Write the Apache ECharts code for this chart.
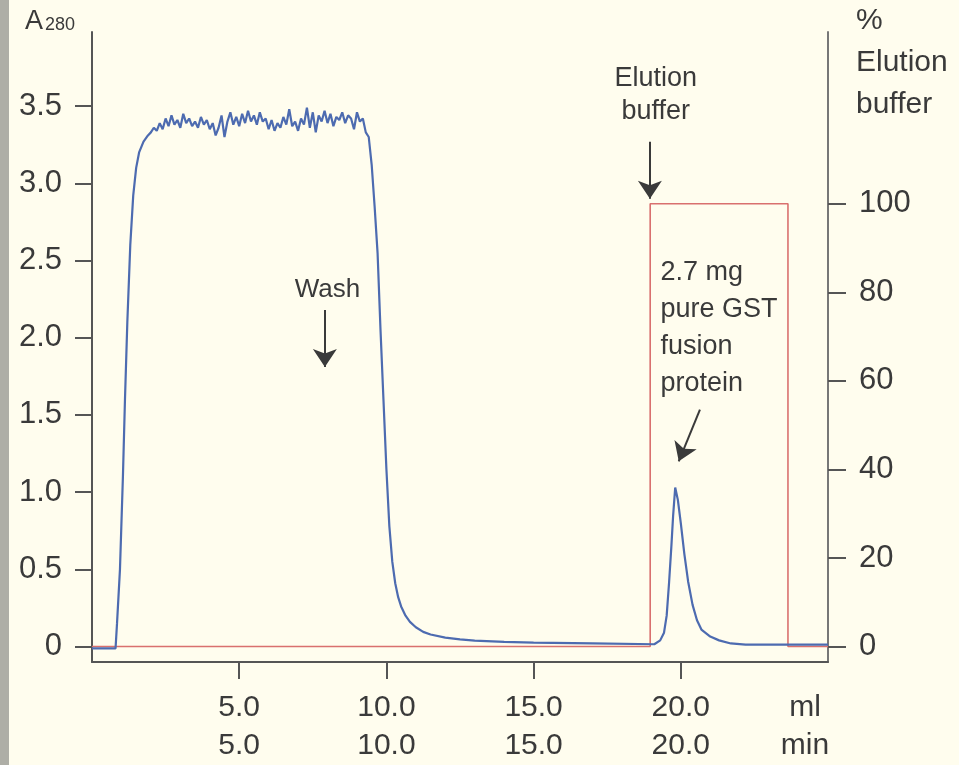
<!DOCTYPE html>
<html>
<head>
<meta charset="utf-8">
<script src="https://cdn.jsdelivr.net/npm/echarts@6/dist/echarts.min.js"></script>
<style>
  html, body { margin: 0; padding: 0; background: #fffdee; }
  #chart { width: 959px; height: 765px; }
</style>
</head>
<body>
<div id="chart"></div>
<script>
// ---- Data ----
// A280 trace: [volume (ml), absorbance]
const a280 = [
  [0, -0.012], [0.8, -0.012], [0.85, 0.15], [0.95, 0.5], [1.05, 1.1], [1.12, 1.6],
  [1.2, 2.1], [1.3, 2.6], [1.4, 2.92], [1.5, 3.1], [1.6, 3.2], [1.75, 3.27], [1.9, 3.31],
  [2.0, 3.33], [2.1, 3.36], [2.2, 3.34], [2.3, 3.39], [2.4, 3.35], [2.5, 3.42],
  [2.6, 3.37], [2.7, 3.44], [2.8, 3.38], [2.9, 3.41], [3.0, 3.36], [3.1, 3.45],
  [3.2, 3.39], [3.3, 3.42], [3.4, 3.37], [3.5, 3.40], [3.6, 3.36], [3.7, 3.43],
  [3.8, 3.38], [3.9, 3.41], [4.0, 3.35], [4.1, 3.39], [4.2, 3.31], [4.3, 3.36],
  [4.4, 3.44], [4.5, 3.30], [4.6, 3.40], [4.7, 3.46], [4.8, 3.38], [4.9, 3.43],
  [5.0, 3.37], [5.1, 3.45], [5.2, 3.39], [5.3, 3.47], [5.4, 3.40], [5.5, 3.44],
  [5.6, 3.38], [5.7, 3.46], [5.8, 3.40], [5.9, 3.42], [6.0, 3.35], [6.1, 3.41],
  [6.2, 3.34], [6.3, 3.39], [6.4, 3.36], [6.5, 3.43], [6.6, 3.38], [6.7, 3.48],
  [6.8, 3.37], [6.9, 3.40], [7.0, 3.34], [7.1, 3.42], [7.2, 3.38], [7.3, 3.49],
  [7.4, 3.36], [7.5, 3.46], [7.6, 3.33], [7.7, 3.44], [7.8, 3.40], [7.9, 3.47],
  [8.0, 3.39], [8.1, 3.45], [8.2, 3.37], [8.3, 3.43], [8.4, 3.41], [8.5, 3.46],
  [8.6, 3.39], [8.7, 3.44], [8.8, 3.42], [8.9, 3.35], [9.0, 3.46], [9.1, 3.40],
  [9.2, 3.42], [9.3, 3.33], [9.4, 3.30],
  [9.5, 3.12], [9.6, 2.85], [9.7, 2.55], [9.8, 2.05], [9.9, 1.6], [10.0, 1.15],
  [10.1, 0.78], [10.2, 0.55], [10.3, 0.41], [10.4, 0.32], [10.5, 0.26], [10.65, 0.2],
  [10.8, 0.16], [11.0, 0.125], [11.25, 0.095], [11.5, 0.078], [12.0, 0.058], [12.5, 0.046],
  [13.0, 0.038], [14.0, 0.03], [15.0, 0.025],
  [17.0, 0.02], [19.1, 0.015], [19.3, 0.04], [19.43, 0.09], [19.52, 0.2], [19.6, 0.41],
  [19.68, 0.65], [19.74, 0.85], [19.81, 1.03], [19.9, 0.95], [20.0, 0.8], [20.12, 0.6],
  [20.25, 0.42], [20.4, 0.27], [20.55, 0.17], [20.7, 0.11], [21.0, 0.065], [21.3, 0.04],
  [21.7, 0.02], [22.2, 0.012], [25.0, 0.012]
];
// Elution buffer step: [volume (ml), % elution buffer]
const elutionPct = [[0, 0], [18.96, 0], [18.96, 100], [23.64, 100], [23.64, 0], [25, 0]];

const xTicks = [5, 10, 15, 20];
const leftTicks = [0, 0.5, 1.0, 1.5, 2.0, 2.5, 3.0, 3.5];
const rightTicks = [0, 20, 40, 60, 80, 100];

// Annotation arrows (data coordinates on left axis): [x1, y1, x2, y2]
const arrows = [
  [18.95, 3.27, 18.95, 2.90],   // Elution buffer
  [7.91, 2.18, 7.91, 1.81],     // Wash
  [20.65, 1.535, 19.93, 1.20]   // peak
];
// Annotation texts
const notes = [
  { text: 'Elution\nbuffer', x: 19.15, y: 3.57, pos: 'inside' },
  { text: 'Wash', x: 8.0, y: 2.31, pos: 'inside' },
  { text: '2.7 mg\npure GST\nfusion\nprotein', x: 19.29, y: 2.06, pos: 'right' }
];

const TXT = '#3a3a3a';
const FONT = 'Liberation Sans';

const chart = echarts.init(document.getElementById('chart'), null, { renderer: 'canvas' });

chart.setOption({
  animation: false,
  backgroundColor: '#fffdee',
  textStyle: { fontFamily: FONT, color: TXT },
  graphic: [{
    type: 'rect', left: 0, top: 0,
    shape: { width: 9, height: 765 },
    style: { fill: '#aeaea6' }, silent: true
  }],
  grid: { left: 92, right: 131, top: 32, bottom: 102, containLabel: false },
  xAxis: {
    type: 'value', min: 0, max: 25,
    axisLine: { show: true, onZero: false, lineStyle: { color: '#555', width: 2 } },
    axisTick: { show: true, customValues: xTicks, length: 17, lineStyle: { color: '#555', width: 2 } },
    axisLabel: {
      customValues: xTicks, margin: 27, fontSize: 30, lineHeight: 38, color: TXT, fontFamily: FONT,
      formatter: v => v.toFixed(1) + '\n' + v.toFixed(1)
    },
    splitLine: { show: false },
    name: 'ml\nmin', nameLocation: 'end', nameGap: -23,
    nameTextStyle: { fontSize: 30, lineHeight: 38, color: TXT, fontFamily: FONT,
      align: 'center', verticalAlign: 'top', padding: [27, 0, 0, 0] }
  },
  yAxis: [{
    type: 'value', position: 'left', min: -0.1, max: 3.98,
    axisLine: { show: true, onZero: false, lineStyle: { color: '#555', width: 2 } },
    axisTick: { show: true, customValues: leftTicks, length: 17, lineStyle: { color: '#555', width: 2 } },
    axisLabel: {
      customValues: leftTicks, margin: 30, fontSize: 31, color: TXT, fontFamily: FONT,
      formatter: v => (v === 0 ? '0' : v.toFixed(1))
    },
    splitLine: { show: false },
    name: '{a|A}{s|280}', nameLocation: 'end', nameGap: 10,
    nameTextStyle: {
      align: 'right', verticalAlign: 'middle', padding: [0, 17, 0, 0],
      rich: {
        a: { fontSize: 27, color: TXT, fontFamily: FONT, verticalAlign: 'bottom' },
        s: { fontSize: 18, color: TXT, fontFamily: FONT, verticalAlign: 'bottom', padding: [0, 0, 1, 2] }
      }
    }
  }, {
    type: 'value', position: 'right', min: -3.5, max: 138.8,
    axisLine: { show: true, onZero: false, lineStyle: { color: '#777', width: 2 } },
    axisTick: { show: true, customValues: rightTicks, length: 18, lineStyle: { color: '#555', width: 2 } },
    axisLabel: { customValues: rightTicks, margin: 31, fontSize: 31, color: TXT, fontFamily: FONT },
    splitLine: { show: false },
    name: '%\nElution\nbuffer', nameLocation: 'end', nameGap: -31,
    nameTextStyle: { fontSize: 30, lineHeight: 42, color: TXT, fontFamily: FONT,
      align: 'left', verticalAlign: 'middle', padding: [0, 0, 0, 28] }
  }],
  series: [{
    name: '% Elution buffer',
    type: 'line', yAxisIndex: 1, data: elutionPct,
    showSymbol: false, silent: true, z: 2,
    lineStyle: { color: '#d9706e', width: 1.6 }
  }, {
    name: 'A280',
    type: 'line', yAxisIndex: 0, data: a280,
    showSymbol: false, silent: true, z: 3,
    lineStyle: { color: '#4d6bb0', width: 2.2 },
    markLine: {
      silent: true, symbol: ['none', 'arrow'], symbolSize: 18,
      lineStyle: { color: '#3a3a3a', width: 2, type: 'solid' },
      label: { show: false },
      emphasis: { disabled: true },
      data: arrows.map(a => [{ coord: [a[0], a[1]] }, { coord: [a[2], a[3]] }])
    },
    markPoint: {
      silent: true, symbol: 'circle', symbolSize: 1,
      itemStyle: { color: 'rgba(0,0,0,0)' },
      data: notes.map(n => ({
        coord: [n.x, n.y],
        label: {
          show: true, formatter: n.text, position: n.pos, distance: 0,
          fontSize: n.text === 'Wash' ? 26 : 27, lineHeight: n.pos === 'right' ? 37 : 33,
          color: TXT, fontFamily: FONT, align: n.pos === 'right' ? 'left' : 'center'
        }
      }))
    }
  }]
});
</script>
</body>
</html>
